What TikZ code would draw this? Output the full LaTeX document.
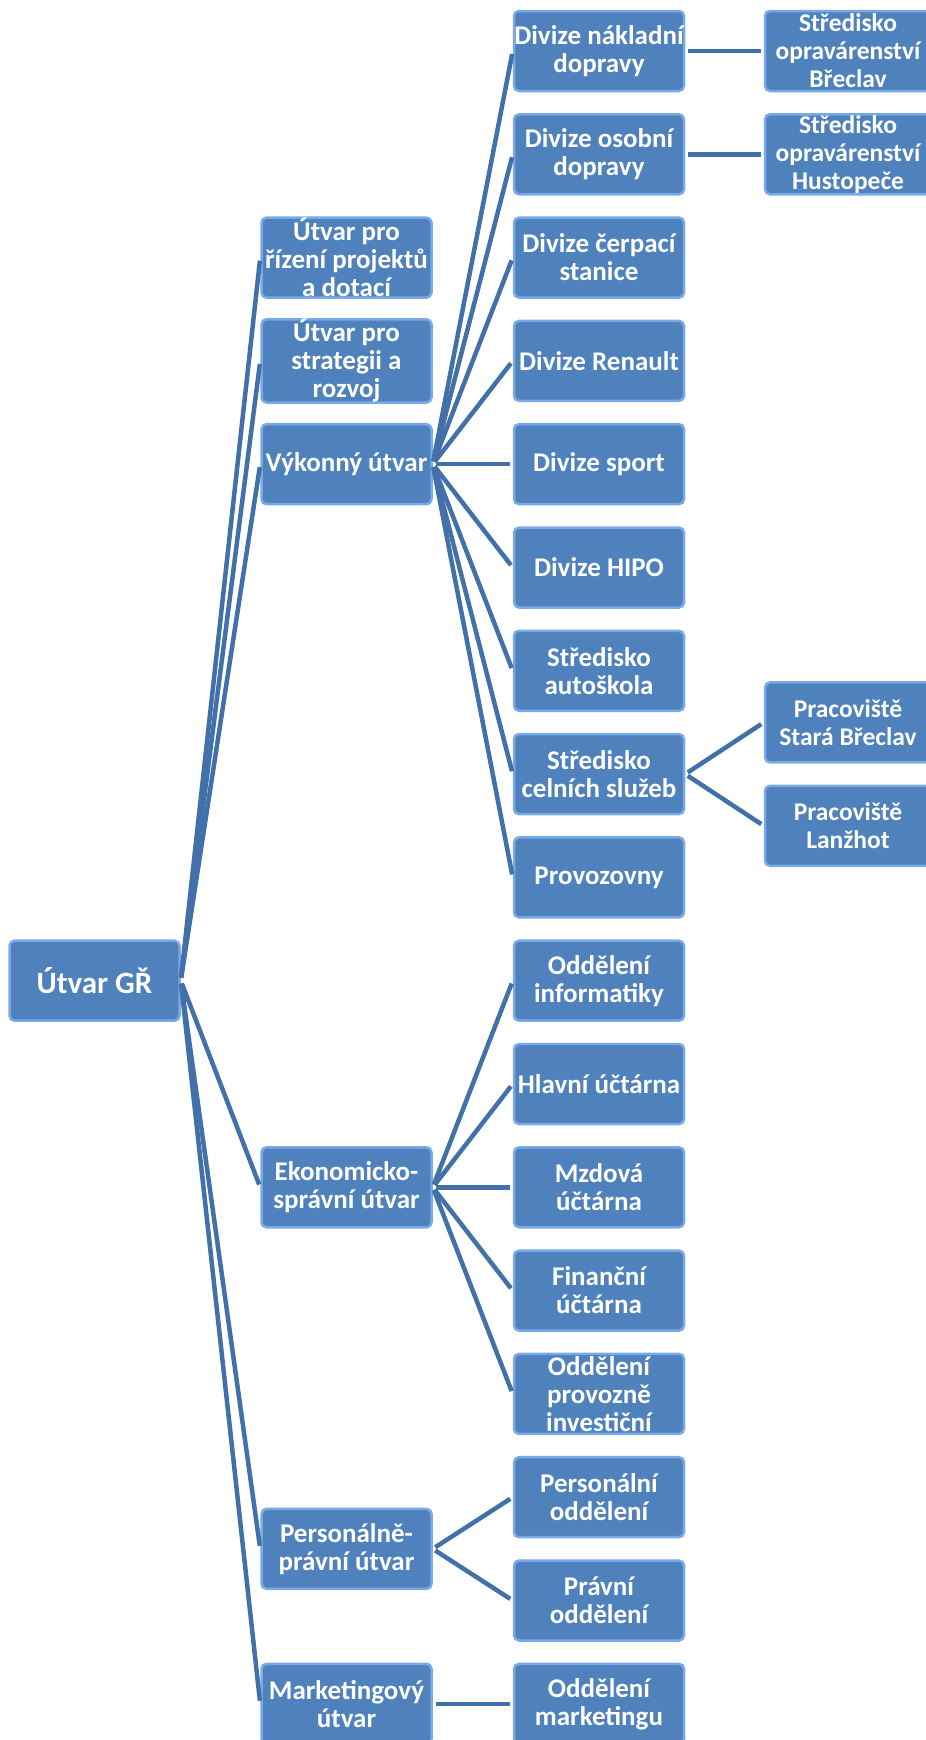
\documentclass[tikz,border=0pt]{standalone}
\usepackage{fontspec}
\setmainfont{Carlito}
\definecolor{boxfill}{HTML}{4F81BD}
\definecolor{boxedge}{HTML}{78AAE8}
\definecolor{linkcol}{HTML}{4270A8}
\tikzset{
  box/.style={rectangle, rounded corners=5pt, fill=boxfill, draw=boxedge, line width=2.5pt,
    minimum width=170pt, minimum height=80pt, align=center, inner sep=0pt,
    text=white, font=\fontsize{27}{28}\selectfont\bfseries},
  rootbox/.style={box, font=\fontsize{31}{33}\selectfont\bfseries},
  leafbox/.style={box, minimum width=166pt, font=\fontsize{25.5}{28}\selectfont\bfseries},
  conn/.style={draw=linkcol, line width=4.5pt, shorten <=3pt, shorten >=3pt}
}
\begin{document}
\begin{tikzpicture}[x=1pt,y=-1pt]
\useasboundingbox (0,0) rectangle (926,1740);
% root
\node[rootbox] (gr) at (94.5,980.7) {Útvar GŘ};
% level 1
\node[box] (a1) at (346.5,257.6) {Útvar pro\\řízení projektů\\a dotací};
\node[box] (a2) at (346.5,360.9) {Útvar pro\\strategii a\\rozvoj};
\node[box] (a3) at (346.5,464.2) {Výkonný útvar};
\node[box] (a4) at (346.5,1187.3) {Ekonomicko-\\správní útvar};
\node[box] (a5) at (346.5,1548.85) {Personálně-\\právní útvar};
\node[box] (a6) at (346.5,1703.8) {Marketingový\\útvar};
% level 2
\node[box] (b0) at (599,51) {Divize nákladní\\dopravy};
\node[box] (b1) at (599,154.3) {Divize osobní\\dopravy};
\node[box] (b2) at (599,257.6) {Divize čerpací\\stanice};
\node[box] (b3) at (599,360.9) {Divize Renault};
\node[box] (b4) at (599,464.2) {Divize sport};
\node[box] (b5) at (599,567.5) {Divize HIPO};
\node[box] (b6) at (599,670.8) {Středisko\\autoškola};
\node[box] (b7) at (599,774.1) {Středisko\\celních služeb};
\node[box] (b8) at (599,877.4) {Provozovny};
\node[box] (b9) at (599,980.7) {Oddělení\\informatiky};
\node[box] (b10) at (599,1084) {Hlavní účtárna};
\node[box] (b11) at (599,1187.3) {Mzdová\\účtárna};
\node[box] (b12) at (599,1290.6) {Finanční\\účtárna};
\node[box] (b13) at (599,1393.9) {Oddělení\\provozně\\investiční};
\node[box] (b14) at (599,1497.2) {Personální\\oddělení};
\node[box] (b15) at (599,1600.5) {Právní\\oddělení};
\node[box] (b16) at (599,1703.8) {Oddělení\\marketingu};
% level 3
\node[leafbox] (c0) at (848,51) {Středisko\\opravárenství\\Břeclav};
\node[leafbox] (c1) at (848,154.3) {Středisko\\opravárenství\\Hustopeče};
\node[leafbox] (c2) at (848,722.45) {Pracoviště\\Stará Břeclav};
\node[leafbox] (c3) at (848,825.75) {Pracoviště\\Lanžhot};
% connectors
\foreach \t in {a1,a2,a3,a4,a5,a6} \draw[conn] (gr.east) -- (\t.west);
\foreach \t in {b0,b1,b2,b3,b4,b5,b6,b7,b8} \draw[conn] (a3.east) -- (\t.west);
\foreach \t in {b9,b10,b11,b12,b13} \draw[conn] (a4.east) -- (\t.west);
\foreach \t in {b14,b15} \draw[conn] (a5.east) -- (\t.west);
\draw[conn] (a6.east) -- (b16.west);
\draw[conn] (b0.east) -- (c0.west);
\draw[conn] (b1.east) -- (c1.west);
\draw[conn] (b7.east) -- (c2.west);
\draw[conn] (b7.east) -- (c3.west);
\end{tikzpicture}
\end{document}
